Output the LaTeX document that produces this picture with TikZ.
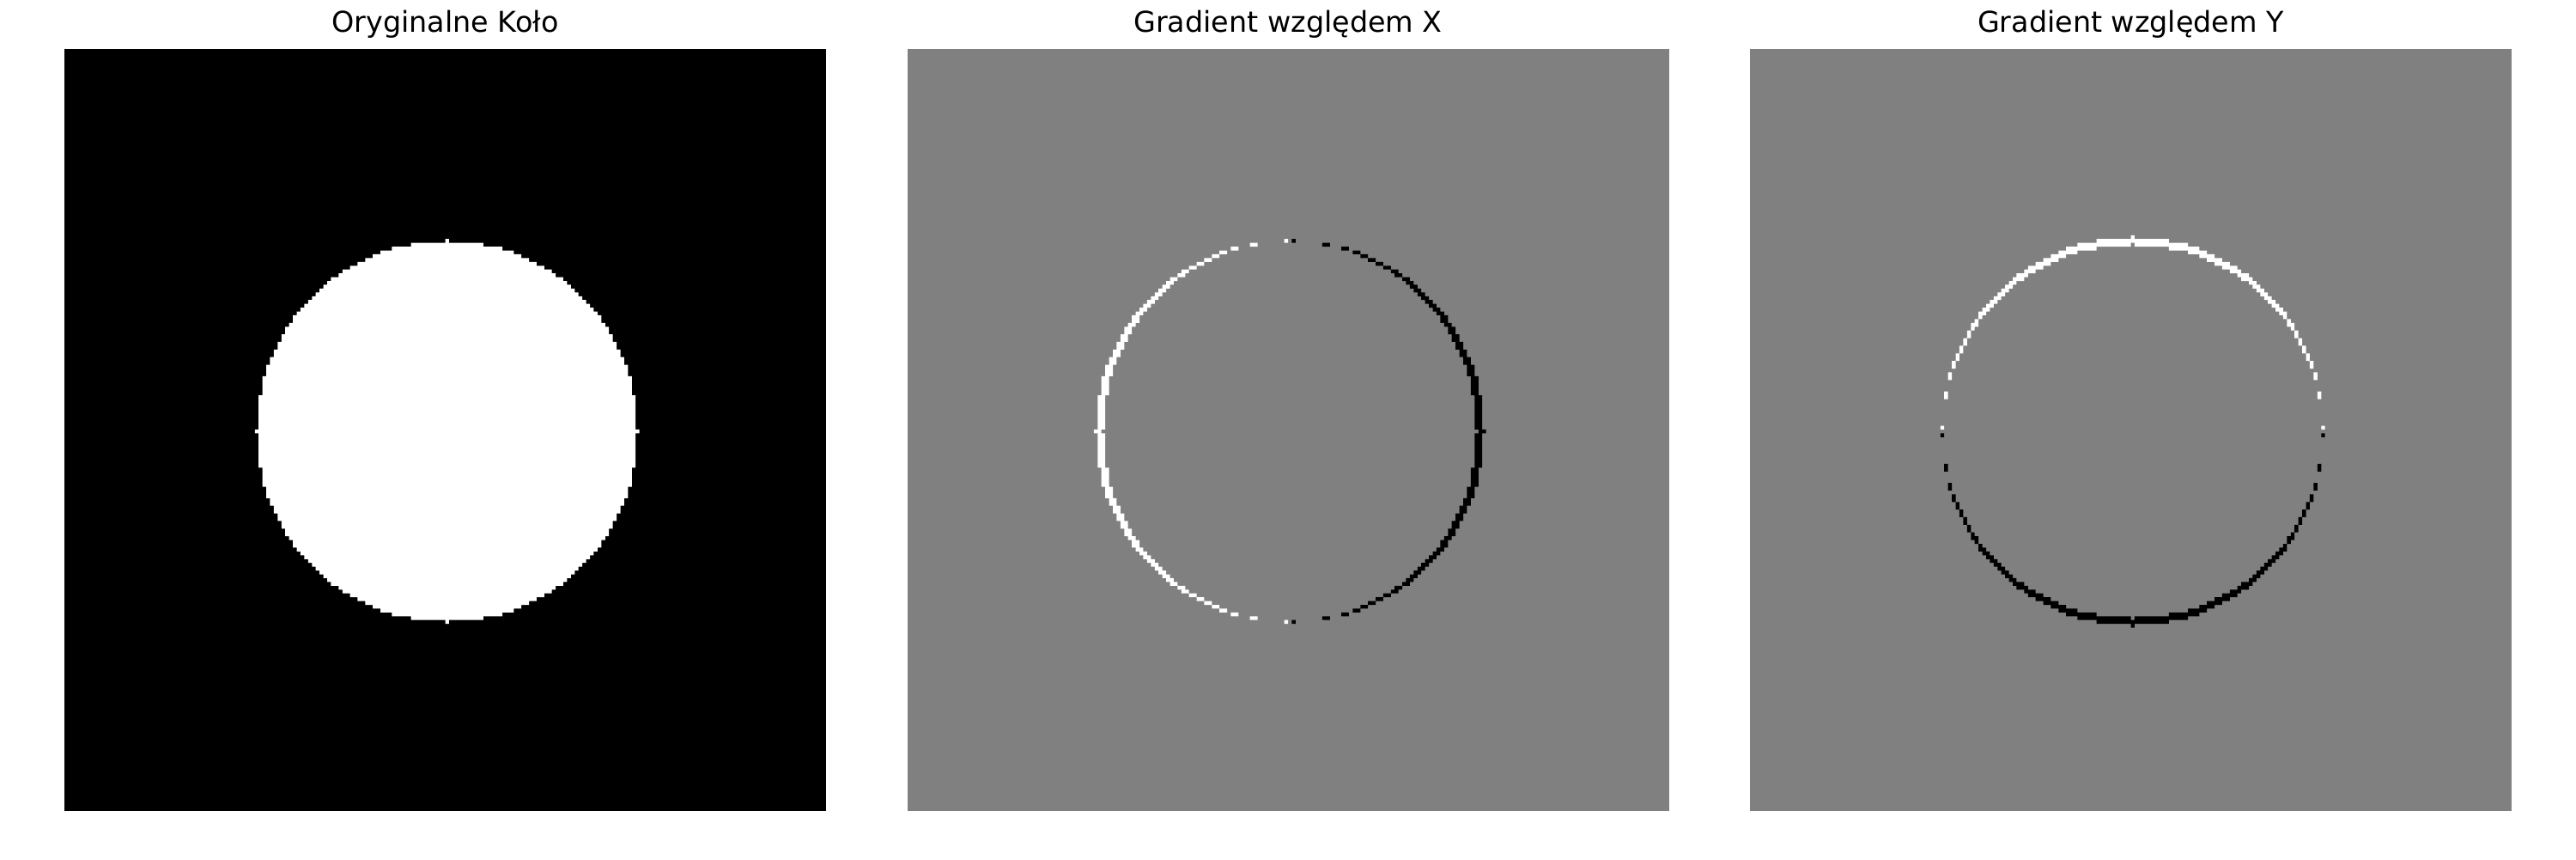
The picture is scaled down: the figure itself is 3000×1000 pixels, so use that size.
\documentclass[tikz,border=0pt]{standalone}
\usepackage{fontspec}
\setmainfont{DejaVu Sans}
\usetikzlibrary{positioning}
\definecolor{midGray}{RGB}{128,128,128}
% half widths of the disc, row offset / half width (radius 50, centre 100)
\newcommand{\circlerows}{0/50,1/49,2/49,3/49,4/49,5/49,6/49,7/49,8/49,9/49,10/48,11/48,12/48,13/48,14/48,15/47,16/47,17/47,18/46,19/46,20/45,21/45,22/44,23/44,24/43,25/43,26/42,27/42,28/41,29/40,30/40,31/39,32/38,33/37,34/36,35/35,36/34,37/33,38/32,39/31,40/30,41/28,42/27,43/25,44/23,45/21,46/19,47/17,48/14,49/9}
\tikzset{
  panel/.style={
    minimum width=88.7mm, minimum height=88.7mm, inner sep=0pt, outer sep=0pt,
  },
  paneltitle/.style={
    font=\fontsize{9.5}{11}\selectfont, text=black, inner sep=0pt,
  },
  pixelgrid/.style={
    shift={(#1.north west)}, x=0.4435mm, y=-0.4435mm,
  },
}

\begin{document}
\begin{tikzpicture}[x=0.1mm, y=0.1mm]

  % === Page ===
  \fill[white] (0,0) rectangle (3000,1000);
  \useasboundingbox (0,0) rectangle (3000,1000);

  % === Panels ===
  \node[panel, fill=black] (orig) at (518.5,500) {};
  \node[panel, fill=midGray] (gradx) at (1500,500) {};
  \node[panel, fill=midGray] (grady) at (2481.5,500) {};

  % === Titles ===
  \node[paneltitle, above=1.94mm of orig.north, anchor=base] (titleorig) {Oryginalne Koło};
  \node[paneltitle, above=1.94mm of gradx.north, anchor=base] (titlegradx) {Gradient względem X};
  \node[paneltitle, above=1.94mm of grady.north, anchor=base] (titlegrady) {Gradient względem Y};

  % === Original disc ===
  \begin{scope}[pixelgrid=orig]
    \fill[white] \foreach \d/\h in \circlerows {
      (100-\h,100-\d) rectangle (101+\h,101-\d)
      (100-\h,100+\d) rectangle (101+\h,101+\d)
    } (100,50) rectangle (101,51) (100,150) rectangle (101,151);
  \end{scope}

  % === Gradient along x ===
  \begin{scope}[pixelgrid=gradx]
    \fill[white] \foreach \d/\h in \circlerows {
      (99-\h,100-\d) rectangle (101-\h,101-\d)
      (99-\h,100+\d) rectangle (101-\h,101+\d)
    } (99,50) rectangle (100,51) (99,150) rectangle (100,151);
    \fill[black] \foreach \d/\h in \circlerows {
      (100+\h,100-\d) rectangle (102+\h,101-\d)
      (100+\h,100+\d) rectangle (102+\h,101+\d)
    } (101,50) rectangle (102,51) (101,150) rectangle (102,151);
  \end{scope}

  % === Gradient along y ===
  \begin{scope}[pixelgrid=grady]
    \fill[white] \foreach \d/\h in \circlerows {
      (100-\d,99-\h) rectangle (101-\d,101-\h)
      (100+\d,99-\h) rectangle (101+\d,101-\h)
    } (50,99) rectangle (51,100) (150,99) rectangle (151,100);
    \fill[black] \foreach \d/\h in \circlerows {
      (100-\d,100+\h) rectangle (101-\d,102+\h)
      (100+\d,100+\h) rectangle (101+\d,102+\h)
    } (50,101) rectangle (51,102) (150,101) rectangle (151,102);
  \end{scope}

\end{tikzpicture}
\end{document}
